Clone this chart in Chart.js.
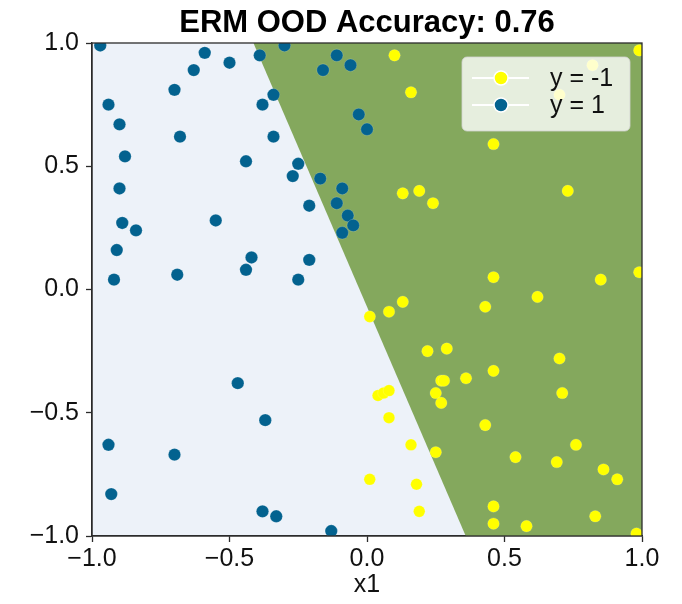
<!DOCTYPE html>
<html lang="en">
<head>
<meta charset="UTF-8">
<title>ERM OOD Accuracy</title>
<script src="https://cdn.jsdelivr.net/npm/chart.js"></script>
<style>
  body { margin: 0; background: #fff; }
</style>
</head>
<body>
<canvas id="oodChart" width="682" height="604"></canvas>
<script>
const titleText = 'ERM OOD Accuracy: 0.76';
const xLabel = 'x1';
const tickValues = [-1.0, -0.5, 0.0, 0.5, 1.0];
const legendLabels = ['y = -1', 'y = 1'];

// decision boundary of the classifier (green side = predicted y = -1)
const boundaryX = [-0.413, 0.359, 1.0];
const boundaryY = [1.0, -1.0, -1.0];

// class y = -1 (yellow)
const negX = [0.10, 0.99, 0.16, 0.82, 0.70, 0.46, 0.13, 0.19, 0.24, 0.73, 0.46, 0.85, 0.99,
  0.13, 0.08, 0.01, 0.43, 0.62, 0.22, 0.29, 0.70, 0.46, 0.36, 0.27, 0.28, 0.25, 0.27, 0.71,
  0.04, 0.06, 0.08, 0.08, 0.43, 0.16, 0.25, 0.76, 0.54, 0.69, 0.86, 0.91, 0.01, 0.18, 0.19,
  0.46, 0.46, 0.58, 0.83, 0.98];
const negY = [0.95, 0.97, 0.80, 0.91, 0.79, 0.59, 0.39, 0.40, 0.35, 0.40, 0.05, 0.04, 0.07,
  -0.05, -0.09, -0.11, -0.07, -0.03, -0.25, -0.24, -0.28, -0.33, -0.36, -0.37, -0.37, -0.42, -0.46, -0.42,
  -0.43, -0.42, -0.41, -0.52, -0.55, -0.63, -0.66, -0.63, -0.68, -0.70, -0.73, -0.77, -0.77, -0.79, -0.90,
  -0.88, -0.95, -0.96, -0.92, -0.99];

// class y = 1 (blue)
const posX = [-0.97, -0.59, -0.50, -0.39, -0.30, -0.63, -0.11, -0.06, -0.16, -0.70, -0.94, -0.34,
  -0.38, -0.90, -0.03, 0.00, -0.68, -0.34, -0.88, -0.44, -0.25, -0.27, -0.17, -0.90, -0.09,
  -0.11, -0.21, -0.07, -0.05, -0.09, -0.89, -0.84, -0.55, -0.91, -0.42, -0.44, -0.21, -0.92,
  -0.69, -0.25, -0.47, -0.37, -0.94, -0.70, -0.93, -0.38, -0.33, -0.13];
const posY = [0.99, 0.96, 0.92, 0.95, 0.99, 0.89, 0.95, 0.91, 0.89, 0.81, 0.75, 0.79,
  0.75, 0.67, 0.71, 0.65, 0.62, 0.62, 0.54, 0.52, 0.51, 0.46, 0.45, 0.41, 0.41,
  0.35, 0.34, 0.30, 0.26, 0.23, 0.27, 0.24, 0.28, 0.16, 0.13, 0.08, 0.12, 0.04,
  0.06, 0.04, -0.38, -0.53, -0.63, -0.67, -0.83, -0.90, -0.92, -0.98];

const toPoints = (xs, ys) => xs.map((x, i) => ({ x: x, y: ys[i] }));
const fmt = v => Number(v).toFixed(1).replace('-', '\u2212');

const plotFrame = {
  id: 'plotFrame',
  beforeDraw(chart) {
    const { ctx, chartArea: a } = chart;
    ctx.save();
    ctx.fillStyle = '#ffffff';
    ctx.fillRect(0, 0, chart.width, chart.height);
    ctx.fillStyle = '#edf2f9';
    ctx.fillRect(a.left, a.top, a.width, a.height);
    ctx.restore();
  },
  afterDatasetsDraw(chart) {
    const { ctx, chartArea: a } = chart;
    ctx.save();
    ctx.strokeStyle = '#2b2b2b';
    ctx.lineWidth = 1.3;
    ctx.strokeRect(a.left, a.top, a.width, a.height);
    ctx.restore();
  },
  afterDraw(chart) {
    const { ctx, chartArea: a } = chart;
    ctx.save();
    // title centred over the plot
    ctx.fillStyle = '#000';
    ctx.font = 'bold 31px "Liberation Sans", Arial, sans-serif';
    ctx.textAlign = 'center';
    ctx.textBaseline = 'alphabetic';
    ctx.fillText(titleText, (a.left + a.right) / 2, 32);

    // legend box inside the plot, top right
    const w = 168, h = 74;
    const left = a.right - 12 - w, top = a.top + 14;
    ctx.beginPath();
    ctx.roundRect(left, top, w, h, 5);
    ctx.fillStyle = 'rgba(255,255,255,0.8)';
    ctx.fill();
    ctx.strokeStyle = 'rgba(210,210,210,0.8)';
    ctx.lineWidth = 1;
    ctx.stroke();

    const sets = chart.data.datasets.filter(d => d.inLegend);
    sets.forEach((d, i) => {
      const cy = top + 21 + i * 27;
      ctx.strokeStyle = '#ffffff';
      ctx.lineWidth = 2;
      ctx.beginPath();
      ctx.moveTo(left + 10, cy);
      ctx.lineTo(left + 67, cy);
      ctx.stroke();
      ctx.beginPath();
      ctx.arc(left + 39, cy, 7, 0, Math.PI * 2);
      ctx.fillStyle = d.backgroundColor;
      ctx.fill();
      ctx.lineWidth = 1.5;
      ctx.stroke();
      ctx.fillStyle = '#111';
      ctx.font = '25px "Liberation Sans", Arial, sans-serif';
      ctx.textAlign = 'left';
      ctx.textBaseline = 'middle';
      ctx.fillText(d.label, left + 88, cy + 1);
    });
    ctx.restore();
  }
};

const tickFont = { family: '"Liberation Sans", Arial, sans-serif', size: 25 };

new Chart(document.getElementById('oodChart'), {
  type: 'scatter',
  data: {
    datasets: [
      {
        label: legendLabels[0],
        inLegend: true,
        data: toPoints(negX, negY),
        backgroundColor: '#ffff00',
        borderColor: 'rgba(255,255,255,0.3)',
        borderWidth: 0.5,
        pointRadius: 5.8,
        clip: 0,
        order: 1
      },
      {
        label: legendLabels[1],
        inLegend: true,
        data: toPoints(posX, posY),
        backgroundColor: '#03628f',
        borderColor: 'rgba(255,255,255,0.35)',
        borderWidth: 0.5,
        pointRadius: 6.2,
        clip: 0,
        order: 0
      },
      {
        type: 'line',
        label: 'boundary',
        data: toPoints(boundaryX, boundaryY),
        backgroundColor: '#84a85d',
        borderWidth: 0,
        pointRadius: 0,
        tension: 0,
        fill: 'end',
        clip: 0,
        order: 10
      }
    ]
  },
  options: {
    responsive: false,
    animation: false,
    layout: { padding: { top: 43, right: 40, left: 0, bottom: 0 } },
    plugins: {
      legend: { display: false },
      title: { display: false },
      tooltip: { enabled: false }
    },
    scales: {
      x: {
        type: 'linear',
        min: -1, max: 1,
        afterBuildTicks: s => { s.ticks = tickValues.map(v => ({ value: v })); },
        afterFit: s => { s.height = 68; },
        ticks: { font: tickFont, color: '#111', padding: 2, maxRotation: 0, callback: fmt },
        grid: { drawOnChartArea: false, drawTicks: true, tickLength: 6, color: '#2b2b2b', tickWidth: 1.3 },
        border: { display: true, color: '#2b2b2b', width: 1.3 },
        title: { display: true, text: xLabel, font: tickFont, color: '#111', padding: { top: 0, bottom: 4 } }
      },
      y: {
        type: 'linear',
        min: -1, max: 1,
        afterBuildTicks: s => { s.ticks = tickValues.map(v => ({ value: v })); },
        afterFit: s => { s.width = 92; },
        ticks: { font: tickFont, color: '#111', padding: 7, callback: fmt },
        grid: { drawOnChartArea: false, drawTicks: true, tickLength: 6, color: '#2b2b2b', tickWidth: 1.3 },
        border: { display: true, color: '#2b2b2b', width: 1.3 }
      }
    }
  },
  plugins: [plotFrame]
});
</script>
</body>
</html>
